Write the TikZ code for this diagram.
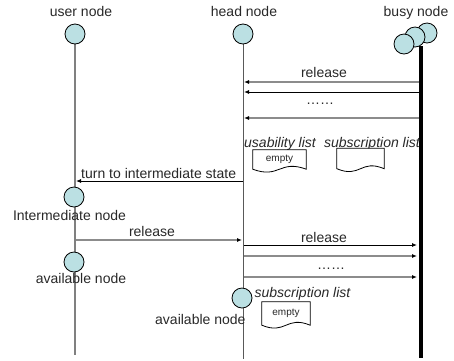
\documentclass[tikz,border=0pt]{standalone}
\usepackage{fontspec}
\setmainfont{Liberation Sans}
\usetikzlibrary{arrows.meta,calc}
\definecolor{nodefill}{RGB}{187,224,227}
\definecolor{lgray}{RGB}{128,128,128}
\definecolor{txt}{RGB}{40,40,40}
\newcommand\docwave[1]{\draw[docline] (#1.north west) -- (#1.north east) -- (#1.south east)
  .. controls ($(#1.south)+(0,-10)$) and ($(#1.south)+(0,10)$) .. (#1.south west) -- cycle;}
\begin{document}
\begin{tikzpicture}[x=1pt,y=-1pt,
  lbl/.style={font=\fontsize{14}{16}\selectfont, inner sep=0pt, text=txt},
  ilbl/.style={font=\fontsize{14}{16}\selectfont\itshape, inner sep=0pt, text=txt},
  circ/.style={circle, draw=black, line width=0.8pt, fill=nodefill, minimum size=20pt, inner sep=0pt},
  userlife/.style={draw=lgray, line width=2pt},
  headlife/.style={draw=black!65, line width=1pt},
  busylife/.style={draw=black, line width=3.5pt},
  msgg/.style={draw=black!45, line width=1.5pt, -{Latex[length=5pt,width=4pt,color=black]}},
  msgb/.style={draw=black, line width=0.9pt, -{Latex[length=5pt,width=4pt,color=black]}},
  docbox/.style={rectangle, inner sep=0pt, font=\fontsize{10}{12}\selectfont, text=txt},
  docline/.style={draw=black, line width=0.8pt, fill=white}
]
\useasboundingbox (0,0) rectangle (454,360);
% lifeline end points
\coordinate (uTop) at (75,40);
\coordinate (uBot) at (75,355);
\coordinate (hTop) at (243,40);
\coordinate (hBot) at (243,359);
\coordinate (bTop) at (421,46);
\coordinate (bBot) at (421,358);
\draw[userlife] (uTop) -- (uBot);
\draw[headlife] (hTop) -- (hBot);
\draw[busylife] (bTop) -- (bBot);

% top labels
\node[lbl, anchor=base] (lu) at (81,16) {user node};
\node[lbl, anchor=base] (lh) at (244,16) {head node};
\node[lbl, anchor=base] (lb) at (416,16) {busy node};

% circles
\node[circ] (user) at (75,34) {};
\node[circ] (head) at (243,34) {};
\node[circ] (busy3) at (427,33) {};
\node[circ] (busy2) at (415,37) {};
\node[circ] (busy1) at (404,44) {};
\node[circ] (inter) at (74,197) {};
\node[circ] (avail) at (74,262) {};
\node[circ] (head2) at (242,298) {};

% arrows busy -> head
\coordinate (b1) at (419,82);  \coordinate (h1) at (244,82);
\coordinate (b2) at (419,92);  \coordinate (h2) at (244,92);
\coordinate (b3) at (419,118); \coordinate (h3) at (244,118);
\draw[msgg] (b1) -- (h1);
\draw[msgb] (b2) -- (h2);
\draw[msgg] (b3) -- (h3);
\node[lbl, anchor=base] (rel1) at (324,77) {release};
\node[lbl, anchor=base] (dots1) at (320,104) {……};

% lists
\node[ilbl, anchor=base] (ul) at (280,147) {usability list};
\node[ilbl, anchor=base] (sl) at (372,147) {subscription list};
\node[docbox, minimum width=53pt, minimum height=19pt] (doc1) at (279.5,159.5) {};
\docwave{doc1}
\node[docbox] (e1) at (doc1) {empty};
\node[docbox, minimum width=47pt, minimum height=20pt] (doc2) at (360.5,158.5) {};
\docwave{doc2}

% head -> user
\coordinate (h4) at (243,181); \coordinate (u4) at (76,181);
\draw[msgb] (h4) -- (u4);
\node[lbl, anchor=base west] (turn) at (81,178) {turn to intermediate state};
\node[lbl, anchor=base] (linter) at (69.5,220) {Intermediate node};

% user -> head
\coordinate (u5) at (76,240); \coordinate (h5) at (242,240);
\draw[msgg] (u5) -- (h5);
\node[lbl, anchor=base] (rel2) at (152,236) {release};
\node[lbl, anchor=base] (lavail) at (81,283) {available node};

% head -> busy
\coordinate (h6) at (244,245); \coordinate (b6) at (417,245);
\coordinate (h7) at (244,256); \coordinate (b7) at (417,256);
\coordinate (h8) at (244,277); \coordinate (b8) at (417,277);
\draw[msgb] (h6) -- (b6);
\draw[msgg] (h7) -- (b7);
\draw[msgg] (h8) -- (b8);
\node[lbl, anchor=base] (rel3) at (324,242) {release};
\node[lbl, anchor=base] (dots2) at (331,269) {……};

\node[ilbl, anchor=base] (sl2) at (302.5,297) {subscription list};
\node[docbox, minimum width=48pt, minimum height=23pt] (doc3) at (286,313.5) {};
\docwave{doc3}
\node[docbox] (e3) at (doc3) {empty};
\node[lbl, anchor=base west] (lavail2) at (155,324) {available node};
\end{tikzpicture}
\end{document}
